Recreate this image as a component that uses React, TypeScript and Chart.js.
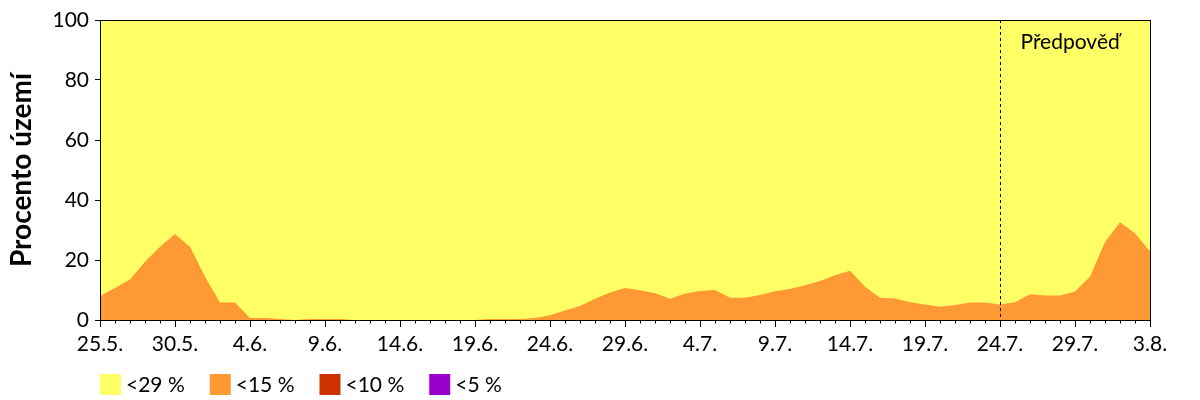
import React, { useEffect, useRef } from "react";
import { Chart, registerables } from "chart.js";

Chart.register(...registerables);

const dayLabels: string[] = [
  "25.5.", "26.5.", "27.5.", "28.5.", "29.5.", "30.5.", "31.5.",
  "1.6.", "2.6.", "3.6.", "4.6.", "5.6.", "6.6.", "7.6.", "8.6.", "9.6.", "10.6.",
  "11.6.", "12.6.", "13.6.", "14.6.", "15.6.", "16.6.", "17.6.", "18.6.", "19.6.", "20.6.",
  "21.6.", "22.6.", "23.6.", "24.6.", "25.6.", "26.6.", "27.6.", "28.6.", "29.6.", "30.6.",
  "1.7.", "2.7.", "3.7.", "4.7.", "5.7.", "6.7.", "7.7.", "8.7.", "9.7.", "10.7.",
  "11.7.", "12.7.", "13.7.", "14.7.", "15.7.", "16.7.", "17.7.", "18.7.", "19.7.", "20.7.",
  "21.7.", "22.7.", "23.7.", "24.7.", "25.7.", "26.7.", "27.7.", "28.7.", "29.7.", "30.7.",
  "31.7.", "1.8.", "2.8.", "3.8.",
];

// share of territory per class (percent)
const below29: number[] = [
  100, 100, 100, 100, 100, 100, 100, 100, 100, 100, 100, 100, 100, 100, 100, 100, 100, 100,
  100, 100, 100, 100, 100, 100, 100, 100, 100, 100, 100, 100, 100, 100, 100, 100, 100, 100,
  100, 100, 100, 100, 100, 100, 100, 100, 100, 100, 100, 100, 100, 100, 100, 100, 100, 100,
  100, 100, 100, 100, 100, 100, 100, 100, 100, 100, 100, 100, 100, 100, 100, 100, 100,
];
const below15: number[] = [
  8, 10.7, 13.5, 19.4, 24.4, 28.7, 24.4, 14.4, 5.8, 5.8,
  0.7, 0.7, 0.3, 0, 0.3, 0.3, 0.3, 0, 0, 0,
  0, 0, 0, 0, 0, 0, 0.3, 0.3, 0.3, 0.7,
  1.6, 3.2, 4.7, 7.1, 9.2, 10.7, 9.9, 8.9, 7.1, 8.8,
  9.7, 10, 7.4, 7.4, 8.3, 9.6, 10.3, 11.6, 13, 14.9,
  16.4, 11.1, 7.4, 7.2, 5.9, 5.2, 4.4, 5, 5.8, 5.8,
  5.2, 5.9, 8.6, 8.2, 8.2, 9.5, 14.4, 26, 32.6, 28.9,
  22.8,
];
const below10: number[] = new Array(71).fill(0);
const below5: number[] = new Array(71).fill(0);

const seriesLabels = ["<29 %", "<15 %", "<10 %", "<5 %"];
const seriesColors = ["#FFFF66", "#FF9933", "#CC3300", "#9900CC"];
const yTicks = [0, 20, 40, 60, 80, 100];
const forecastIndex = 60;
const forecastText = "Předpověď";

const FONT = "Lato, 'Open Sans', sans-serif";

export default function App() {
  const ref = useRef<HTMLCanvasElement | null>(null);

  useEffect(() => {
    if (!ref.current) return;

    const extras = {
      id: "extras",
      afterDatasetsDraw(chart: any) {
        const { ctx, chartArea } = chart;
        const xs = chart.scales.x;
        ctx.save();
        // forecast dashed line
        const fx = Math.round(xs.getPixelForValue(forecastIndex)) + 0.5;
        ctx.strokeStyle = "#000";
        ctx.lineWidth = 1;
        ctx.setLineDash([3, 3]);
        ctx.beginPath();
        ctx.moveTo(fx, chartArea.top);
        ctx.lineTo(fx, chartArea.bottom);
        ctx.stroke();
        ctx.setLineDash([]);
        // plot border
        ctx.strokeRect(
          Math.round(chartArea.left) + 0.5,
          Math.round(chartArea.top) + 0.5,
          Math.round(chartArea.right - chartArea.left),
          Math.round(chartArea.bottom - chartArea.top)
        );
        // forecast text
        ctx.fillStyle = "#000";
        ctx.font = `21px ${FONT}`;
        ctx.textAlign = "left";
        ctx.textBaseline = "middle";
        ctx.fillText(forecastText, fx + 20, chartArea.top + 22);
        ctx.restore();
      },
      afterDraw(chart: any) {
        const { ctx, chartArea } = chart;
        const xs = chart.scales.x;
        ctx.save();
        // minor ticks
        ctx.strokeStyle = "#000";
        ctx.lineWidth = 1;
        const b = Math.round(chartArea.bottom) + 0.5;
        for (let i = 0; i < dayLabels.length; i++) {
          if (i % 5 === 0) continue;
          const x = Math.round(xs.getPixelForValue(i)) + 0.5;
          ctx.beginPath();
          ctx.moveTo(x, b);
          ctx.lineTo(x, b + 3);
          ctx.stroke();
        }
        // legend
        let lx = chartArea.left;
        const ly = 366;
        const box = 21;
        ctx.font = `21px ${FONT}`;
        ctx.textAlign = "left";
        ctx.textBaseline = "middle";
        chart.data.datasets.forEach((ds: any) => {
          ctx.fillStyle = ds.backgroundColor;
          ctx.fillRect(lx, ly, box, box);
          ctx.fillStyle = "#000";
          const tx = lx + box + 5;
          ctx.fillText(ds.label, tx, ly + box / 2 + 1);
          lx = tx + ctx.measureText(ds.label).width + 25;
        });
        ctx.restore();
      },
    };

    const datasets = [below29, below15, below10, below5].map((d, i) => ({
      label: seriesLabels[i],
      data: d,
      backgroundColor: seriesColors[i],
      borderColor: seriesColors[i],
      borderWidth: 0,
      pointRadius: 0,
      fill: "origin",
      tension: 0,
      order: 4 - i,
    }));

    const chart = new Chart(ref.current, {
      type: "line",
      data: { labels: dayLabels, datasets },
      plugins: [extras],
      options: {
        animation: false,
        responsive: false,
        layout: { padding: { top: 12, right: 42, bottom: 0, left: 0 } },
        plugins: { legend: { display: false }, tooltip: { enabled: false } },
        scales: {
          x: {
            type: "category",
            offset: false,
            afterFit: (s: any) => {
              s.height = 80;
              s.paddingLeft = 0;
              s.paddingRight = 0;
            },
            grid: {
              display: true,
              drawOnChartArea: false,
              tickLength: 7,
              tickColor: (c: any) => (c.index % 5 === 0 ? "#000" : "rgba(0,0,0,0)"),
            },
            border: { display: true, color: "#000", width: 1 },
            ticks: {
              autoSkip: false,
              maxRotation: 0,
              minRotation: 0,
              padding: 5,
              color: "#000",
              font: { family: FONT, size: 21 },
              callback: (_v: any, i: number) => (i % 5 === 0 ? dayLabels[i] : ""),
            },
          },
          y: {
            min: 0,
            max: 100,
            afterFit: (s: any) => {
              s.width = 92;
              s.paddingTop = 0;
              s.paddingBottom = 0;
            },
            afterBuildTicks: (s: any) => {
              s.ticks = yTicks.map((v) => ({ value: v }));
            },
            grid: {
              display: true,
              drawOnChartArea: false,
              tickLength: 5,
              tickColor: "#000",
            },
            border: { display: true, color: "#000", width: 1 },
            ticks: {
              padding: 6,
              color: "#000",
              font: { family: FONT, size: 21, lineHeight: 1 },
            },
            title: {
              display: true,
              text: "Procento území",
              color: "#000",
              padding: 0,
              font: { family: FONT, size: 28, weight: "bold", lineHeight: 1 },
            },
          },
        },
      },
    } as any);

    return () => chart.destroy();
  }, []);

  return (
    <div style={{ width: 1184, height: 392 }}>
      <canvas ref={ref} width={1184} height={392} style={{ display: "block" }} />
    </div>
  );
}
